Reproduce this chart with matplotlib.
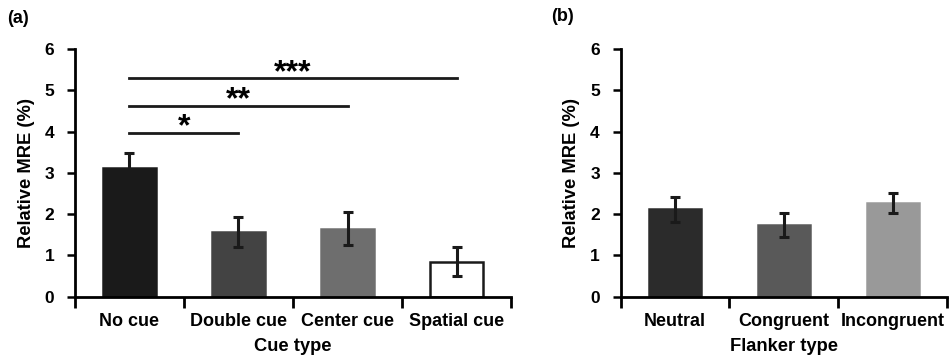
import numpy as np
import matplotlib.pyplot as plt

plt.rcParams['font.family'] = ['Liberation Sans', 'DejaVu Sans']
plt.rcParams['font.weight'] = 'bold'

# Panel (a): cue type
cue_labels = ["No cue", "Double cue", "Center cue", "Spatial cue"]
cue_mean = [3.13, 1.57, 1.65, 0.85]
cue_err = [0.36, 0.36, 0.40, 0.35]
cue_colors = ["#1a1a1a", "#434343", "#6e6e6e", "white"]

# significance brackets: (from bar, to bar, height, label)
sig_pairs = [(0, 1, 3.97, "*"), (0, 2, 4.62, "**"), (0, 3, 5.29, "***")]

# Panel (b): flanker type
flk_labels = ["Neutral", "Congruent", "Incongruent"]
flk_mean = [2.12, 1.73, 2.28]
flk_err = [0.30, 0.29, 0.24]
flk_colors = ["#2b2b2b", "#595959", "#999999"]

fig = plt.figure(figsize=(9.49, 3.58), dpi=100)
ax1 = fig.add_axes([0.079, 0.171, 0.4595, 0.692])
ax2 = fig.add_axes([0.654, 0.171, 0.344, 0.692])


def draw_panel(ax, labels, means, errs, colors, xlabel):
    n = len(labels)
    x = np.arange(n) + 0.5
    ax.bar(x, means, width=0.48, color=colors, edgecolor=["#1a1a1a" if c == "white" else c for c in colors],
           linewidth=1.8, zorder=2)
    ax.errorbar(x, means, yerr=errs, fmt="none", ecolor="#1a1a1a", elinewidth=2.2,
                capsize=3.5, capthick=2.2, zorder=3)
    ax.set_xlim(0, n)
    ax.set_ylim(0, 6)
    ax.set_yticks(range(7))
    ax.set_xticks(np.arange(n + 1))
    ax.set_xticklabels([])
    ax.set_xticks(x, minor=True)
    ax.set_xticklabels(labels, minor=True, fontsize=13, fontweight="bold")
    ax.tick_params(axis="x", which="major", direction="out", length=8, width=2)
    ax.tick_params(axis="x", which="minor", length=0, pad=11.5)
    ax.tick_params(axis="y", direction="out", length=6, width=1.8, labelsize=12.5, pad=9)
    for lab in ax.get_yticklabels():
        lab.set_fontweight("bold")
    for s in ["top", "right"]:
        ax.spines[s].set_visible(False)
    for s in ["left", "bottom"]:
        ax.spines[s].set_linewidth(2)
    ax.set_ylabel("Relative MRE (%)", fontsize=13.2, fontweight="bold", labelpad=7)
    ax.set_xlabel(xlabel, fontsize=13.2, fontweight="bold", labelpad=6)
    return x


xa = draw_panel(ax1, cue_labels, cue_mean, cue_err, cue_colors, "Cue type")
draw_panel(ax2, flk_labels, flk_mean, flk_err, flk_colors, "Flanker type")

for i, j, h, lab in sig_pairs:
    ax1.plot([xa[i], xa[j]], [h, h], color="#1a1a1a", lw=2, clip_on=False)
    ax1.text((xa[i] + xa[j]) / 2, h - 0.06, lab, ha="center", va="baseline",
             fontsize=23, fontweight="bold")

fig.text(0.007, 0.935, "(a)", fontsize=13, fontweight="bold")
fig.text(0.581, 0.94, "(b)", fontsize=13, fontweight="bold")

fig.savefig("out.png", dpi=100)
